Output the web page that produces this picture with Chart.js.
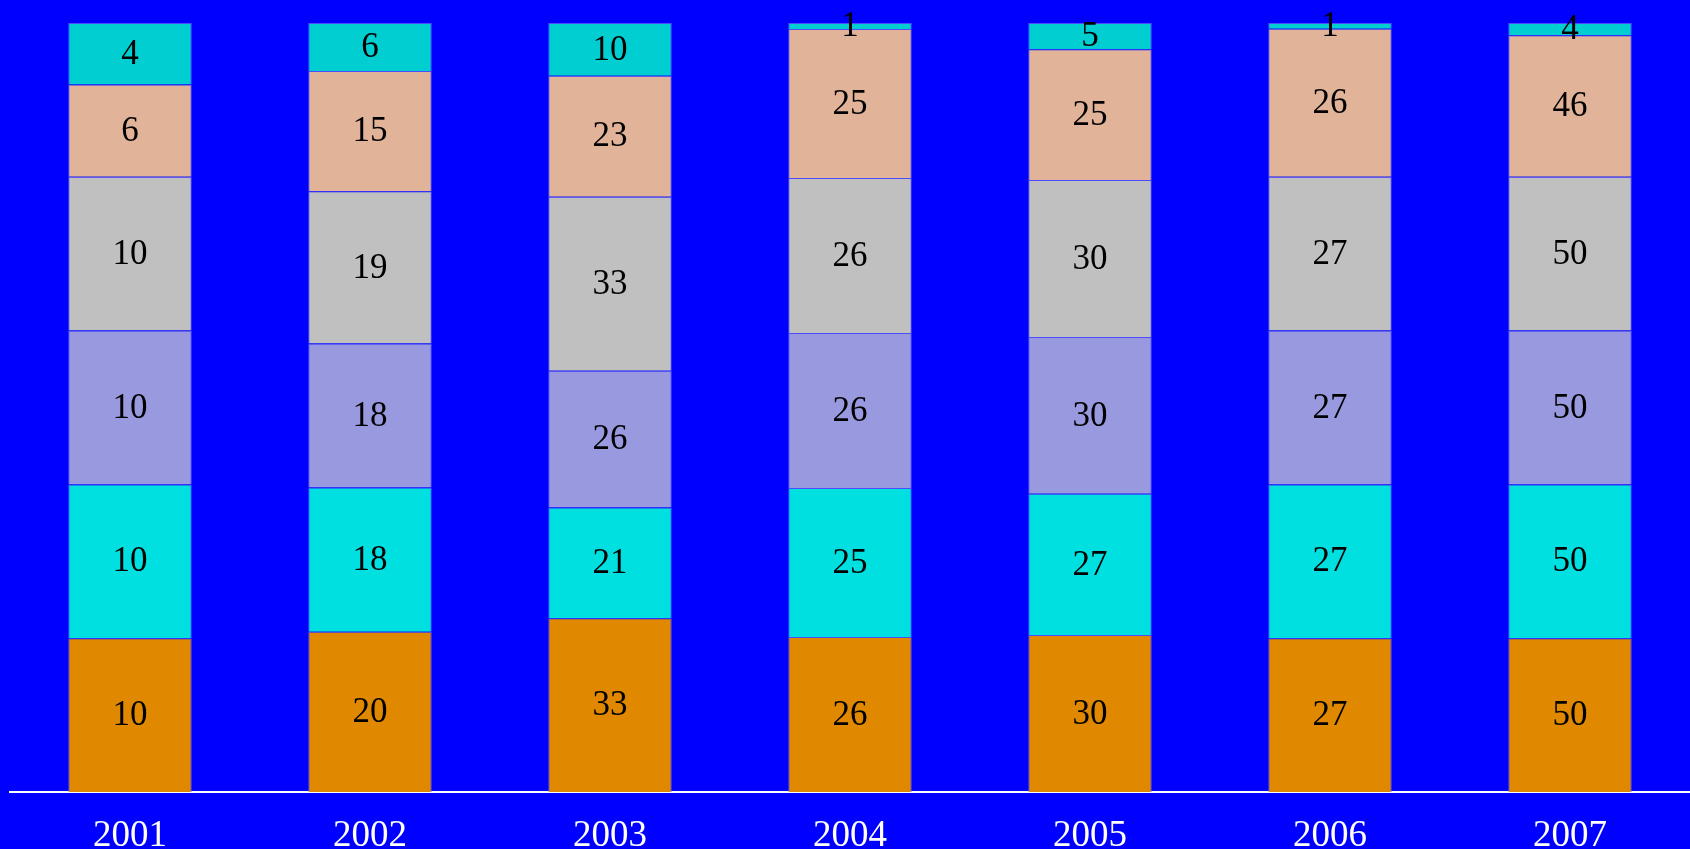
<!DOCTYPE html>
<html>
<head>
<meta charset="utf-8">
<script src="https://cdn.jsdelivr.net/npm/chart.js@4"></script>
<style>
  html, body { margin: 0; padding: 0; background: #0000ff; }
  #wrap { width: 1690px; height: 849px; }
</style>
</head>
<body>
<div id="wrap"><canvas id="myChart"></canvas></div>
<script>
// annees
const years = ['2001', '2002', '2003', '2004', '2005', '2006', '2007'];

// series du bas vers le haut
const orangeVals = [10, 20, 33, 26, 30, 27, 50];
const cyanVals = [10, 18, 21, 25, 27, 27, 50];
const lavenderVals = [10, 18, 26, 26, 30, 27, 50];
const grayVals = [10, 19, 33, 26, 30, 27, 50];
const peachVals = [6, 15, 23, 25, 25, 26, 46];
const tealVals = [4, 6, 10, 1, 5, 1, 4];

const allSeries = [orangeVals, cyanVals, lavenderVals, grayVals, peachVals, tealVals];
const colors = ['#e08800', '#00e0e0', '#9999e0', '#c0c0c0', '#e1b398', '#00ced1'];

// total par annee pour empiler a 100%
const totals = years.map((y, i) => allSeries.reduce((s, arr) => s + arr[i], 0));

const datasets = allSeries.map((arr, k) => ({
    label: 'serie' + (k + 1),
    data: arr.map((v, i) => v / totals[i] * 100),
    raw: arr,
    backgroundColor: colors[k],
    borderColor: 'rgba(110,110,255,0.7)',
    borderWidth: 1,
    barPercentage: 0.515,
    categoryPercentage: 1
}));

// etiquettes de valeur au centre de chaque segment
const valueLabels = {
    id: 'valueLabels',
    afterDatasetsDraw(chart) {
        const ctx = chart.ctx;
        ctx.save();
        ctx.fillStyle = '#000000';
        ctx.font = '35px "Liberation Serif", "Times New Roman", serif';
        ctx.textAlign = 'center';
        ctx.textBaseline = 'middle';
        chart.data.datasets.forEach((ds, k) => {
            const meta = chart.getDatasetMeta(k);
            meta.data.forEach((bar, i) => {
                const yMid = (bar.y + bar.base) / 2;
                ctx.fillText(String(ds.raw[i]), bar.x, yMid + 1);
            });
        });
        ctx.restore();
    }
};

var ctx = document.getElementById('myChart').getContext('2d');
var myChart = new Chart(ctx, {
    type: 'bar',
    data: { labels: years, datasets: datasets },
    options: {
        responsive: true,
        maintainAspectRatio: false,
        animation: false,
        layout: { padding: { left: 10, top: 23, right: 0, bottom: 0 } },
        plugins: {
            legend: { display: false },
            tooltip: { enabled: false }
        },
        scales: {
            x: {
                stacked: true,
                grid: { display: false, drawTicks: false },
                border: { display: true, color: '#ffffff', width: 2 },
                ticks: {
                    color: '#ffffff',
                    padding: 22,
                    font: { family: '"Liberation Serif", "Times New Roman", serif', size: 37 }
                },
                afterFit(scale) { scale.height = 57; }
            },
            y: {
                stacked: true,
                display: false,
                min: 0,
                max: 100
            }
        }
    },
    plugins: [valueLabels]
});
</script>
</body>
</html>
